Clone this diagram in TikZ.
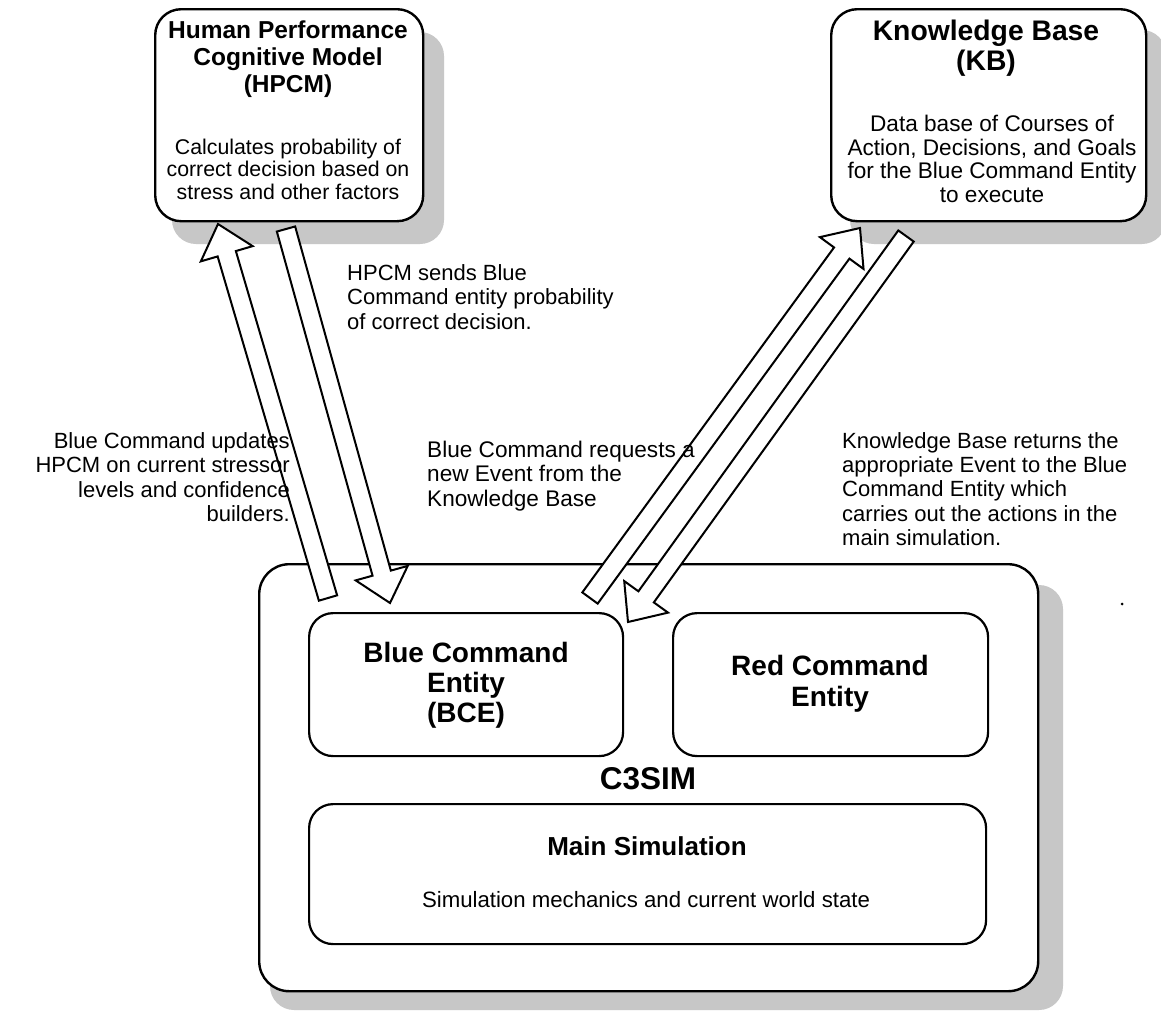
\documentclass[tikz,border=0pt]{standalone}
\usepackage{fontspec}
\setmainfont{Liberation Sans}
\usetikzlibrary{calc}
\tikzset{
  box/.style={draw=black, line width=2.4pt, rounded corners=26pt, fill=white},
  inbox/.style={draw=black, line width=2.2pt, rounded corners=24pt, fill=white},
  shadowbox/.style={fill=black!22, draw=none, rounded corners=24pt},
  txt/.style={inner sep=0pt, font=\fontsize{22}{24.3}\selectfont},
  ttl/.style={inner sep=0pt, align=center, font=\bfseries\fontsize{26}{29}\selectfont},
  fatarrow/.style={draw=black, line width=2pt, fill=white, line join=miter},
}
\newcommand{\blockarrow}[2]{%
  \coordinate (bh) at ($(#2)!31pt!(#1)$);
  \draw[fatarrow] ($(#1)!9.5pt!90:(#2)$) -- ($(bh)!9.5pt!90:(#2)$) -- ($(bh)!27pt!90:(#2)$) -- (#2)
     -- ($(bh)!27pt!-90:(#2)$) -- ($(bh)!9.5pt!-90:(#2)$) -- ($(#1)!9.5pt!-90:(#2)$) -- cycle;}
\begin{document}
\begin{tikzpicture}[x=1pt, y=-1pt]
\useasboundingbox[fill=white] (0,0) rectangle (1161,1012);

% shadows
\fill[shadowbox] (172,32) rectangle (444,244);
\fill[shadowbox] (850,30) rectangle (1166,244);
\fill[shadowbox] (270,585) rectangle (1063,1010);

% top boxes
\node[box, anchor=north west, minimum width=268pt, minimum height=212pt] (hpcm) at (154,8) {};
\node[ttl, font=\bfseries\fontsize{24.5}{27}\selectfont] (hpcmt) at (288,59) {Human Performance\\Cognitive Model\\(HPCM)};
\node[txt, align=center, font=\fontsize{21.3}{22.5}\selectfont] (hpcmb) at (288,169) {Calculates probability of\\correct decision based on\\stress and other factors};

\node[box, anchor=north west, minimum width=315pt, minimum height=212pt] (kb) at (830,8) {};
\node[ttl, font=\bfseries\fontsize{28.3}{29.5}\selectfont] (kbt) at (986,48) {Knowledge Base\\(KB)};
\node[txt, align=center, font=\fontsize{22.6}{23.4}\selectfont] (kbb) at (992,159) {Data base of Courses of\\Action, Decisions, and Goals\\for the Blue Command Entity\\to execute};

% C3SIM
\node[box, rounded corners=30pt, anchor=north west, minimum width=779pt, minimum height=427pt] (c3) at (258,563) {};
\node[inbox, anchor=north west, minimum width=314pt, minimum height=143pt] (bce) at (308,612) {};
\node[ttl, font=\bfseries\fontsize{28}{30}\selectfont] (bcet) at (466,685) {Blue Command\\Entity\\(BCE)};
\node[inbox, anchor=north west, minimum width=315pt, minimum height=143pt] (red) at (672,612) {};
\node[ttl, font=\bfseries\fontsize{28}{31}\selectfont] (redt) at (830,684) {Red Command\\Entity};
\node[ttl, font=\bfseries\fontsize{31.5}{32}\selectfont] (c3t) at (648,779) {C3SIM};
\node[inbox, anchor=north west, minimum width=677pt, minimum height=140pt] (main) at (308,803) {};
\node[ttl] (maint) at (647,846) {Main Simulation};
\node[txt, font=\fontsize{22.2}{24}\selectfont] (mainb) at (646,900) {Simulation mechanics and current world state};

% arrows
\coordinate (a1t) at (328,598);
\coordinate (a1h) at (218,224);
\coordinate (a2t) at (286,229);
\coordinate (a2h) at (390,603);
\coordinate (a3t) at (590,598);
\coordinate (a3h) at (860,228);
\coordinate (a4t) at (906,236);
\coordinate (a4h) at (628,622);
\blockarrow{a1t}{a1h}
\blockarrow{a2t}{a2h}
\blockarrow{a3t}{a3h}
\blockarrow{a4t}{a4h}

% labels
\node[txt, align=right, anchor=east] (l1) at (290,477) {Blue Command updates\\HPCM on current stressor\\levels and confidence\\builders.};
\node[txt, align=left, anchor=west] (l2) at (347,297) {HPCM sends Blue\\Command entity probability\\of correct decision.};
\node[txt, align=left, anchor=west, font=\fontsize{22.6}{24.3}\selectfont] (l3) at (427,476) {Blue Command requests a\\new Event from the\\Knowledge Base};
\node[txt, align=left, anchor=west] (l4) at (842,489) {Knowledge Base returns the\\appropriate Event to the Blue\\Command Entity which\\carries out the actions in the\\main simulation.};

\fill (1122,604) circle (1.5pt);
\end{tikzpicture}
\end{document}
